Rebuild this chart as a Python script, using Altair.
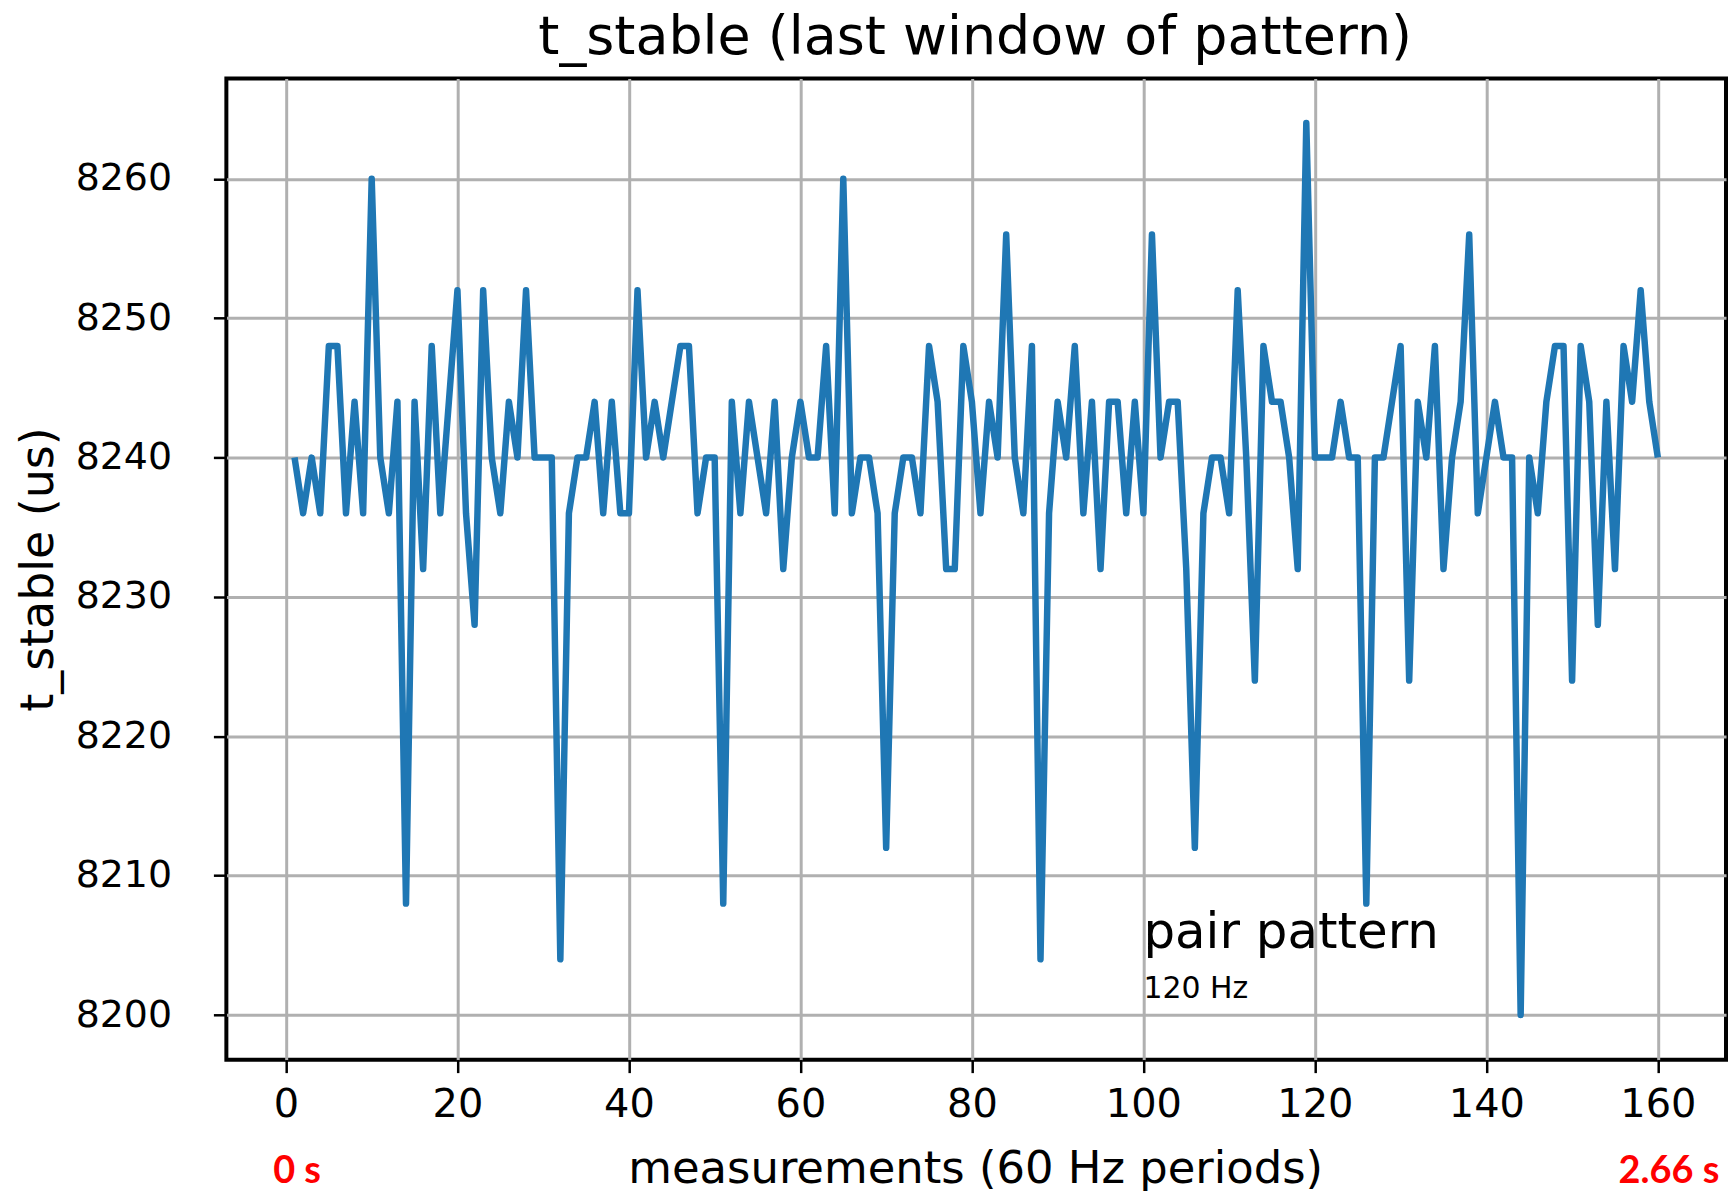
import altair as alt
import pandas as pd

# measurement index (60 Hz periods)
measurement = list(range(1, 161))

# t_stable values in microseconds
t_stable = [
    8240, 8236, 8240, 8236, 8248, 8248, 8236, 8244, 8236, 8260,
    8240, 8236, 8244, 8208, 8244, 8232, 8248, 8236, 8244, 8252,
    8236, 8228, 8252, 8240, 8236, 8244, 8240, 8252, 8240, 8240,
    8240, 8204, 8236, 8240, 8240, 8244, 8236, 8244, 8236, 8236,
    8252, 8240, 8244, 8240, 8244, 8248, 8248, 8236, 8240, 8240,
    8208, 8244, 8236, 8244, 8240, 8236, 8244, 8232, 8240, 8244,
    8240, 8240, 8248, 8236, 8260, 8236, 8240, 8240, 8236, 8212,
    8236, 8240, 8240, 8236, 8248, 8244, 8232, 8232, 8248, 8244,
    8236, 8244, 8240, 8256, 8240, 8236, 8248, 8204, 8236, 8244,
    8240, 8248, 8236, 8244, 8232, 8244, 8244, 8236, 8244, 8236,
    8256, 8240, 8244, 8244, 8232, 8212, 8236, 8240, 8240, 8236,
    8252, 8240, 8224, 8248, 8244, 8244, 8240, 8232, 8264, 8240,
    8240, 8240, 8244, 8240, 8240, 8208, 8240, 8240, 8244, 8248,
    8224, 8244, 8240, 8248, 8232, 8240, 8244, 8256, 8236, 8240,
    8244, 8240, 8240, 8200, 8240, 8236, 8244, 8248, 8248, 8224,
    8248, 8244, 8228, 8244, 8232, 8248, 8244, 8252, 8244, 8240,
]

x_ticks = [0, 20, 40, 60, 80, 100, 120, 140, 160]
y_ticks = [8200, 8210, 8220, 8230, 8240, 8250, 8260]

TITLE = "t_stable (last window of pattern)"
X_TITLE = "measurements (60 Hz periods)"
Y_TITLE = "t_stable (us)"

# annotation texts (data coordinates)
note_x = [100, 100]
note_y = [8204.8, 8201.2]
note_text = ["pair pattern", "120 Hz"]

# red time labels under the x axis
time_x = [1.3, 161.3]
time_text = ["0 s", "2.66 s"]

df = pd.DataFrame({"measurement": measurement, "t_stable": t_stable})
df_note1 = pd.DataFrame({"measurement": note_x[:1], "t_stable": note_y[:1], "text": note_text[:1]})
df_note2 = pd.DataFrame({"measurement": note_x[1:], "t_stable": note_y[1:], "text": note_text[1:]})
df_time = pd.DataFrame({"measurement": time_x, "text": time_text})
df_title = pd.DataFrame({"text": [TITLE]})

FONT = "DejaVu Sans"
W, H = 1504, 984

x_scale = alt.Scale(domain=[-6.95, 167.95], nice=False, zero=False)
y_scale = alt.Scale(domain=[8196.8, 8267.2], nice=False, zero=False)

common_axis = dict(
    grid=True, gridColor="#b0b0b0", gridWidth=3, gridOpacity=1,
    domain=False, ticks=True, tickColor="black", tickSize=13, tickWidth=2.5,
    labelFont=FONT, labelColor="black",
    titleFont=FONT, titleFontWeight="normal", titleColor="black",
    format="d",
)

x_axis = alt.Axis(values=x_ticks, title=X_TITLE, labelPadding=12,
                  labelFontSize=40, titleFontSize=45,
                  titleX=751, titleY=109, titleBaseline="middle",
                  titleAnchor="middle", **common_axis)
y_axis = alt.Axis(values=y_ticks, title=Y_TITLE, labelPadding=42,
                  labelFontSize=38, titleFontSize=46,
                  titleX=-188, titleY=H / 2, titleBaseline="middle",
                  titleAnchor="middle", **common_axis)

X = alt.X("measurement:Q", scale=x_scale, axis=x_axis)
Y = alt.Y("t_stable:Q", scale=y_scale, axis=y_axis)

line = alt.Chart(df).mark_line(
    color="#1f77b4", strokeWidth=6.5, strokeJoin="round"
).encode(x=X, y=Y)

note1 = alt.Chart(df_note1).mark_text(
    font=FONT, fontSize=50, color="black", align="left", baseline="alphabetic"
).encode(x=X, y=Y, text="text:N")

note2 = alt.Chart(df_note2).mark_text(
    font=FONT, fontSize=30, color="black", align="left", baseline="alphabetic"
).encode(x=X, y=Y, text="text:N")

time_lbl = alt.Chart(df_time).mark_text(
    font="Lato", fontSize=38, fontWeight="bold", color="#ff0000",
    align="center", baseline="middle"
).encode(x=X, y=alt.value(1097), text="text:N")

title_txt = alt.Chart(df_title).mark_text(
    font=FONT, fontSize=54, color="black", align="center", baseline="alphabetic"
).encode(x=alt.value(751), y=alt.value(-25), text="text:N")

chart = alt.layer(line, note1, note2, time_lbl, title_txt).properties(
    width=W, height=H,
    background="white",
    autosize=alt.AutoSizeParams(type="none"),
    padding={"left": 219, "top": 69, "right": 2, "bottom": 130},
).configure_view(
    stroke="black", strokeWidth=4
)

chart.save("out.html", embed_options={"renderer": "svg", "actions": False})
